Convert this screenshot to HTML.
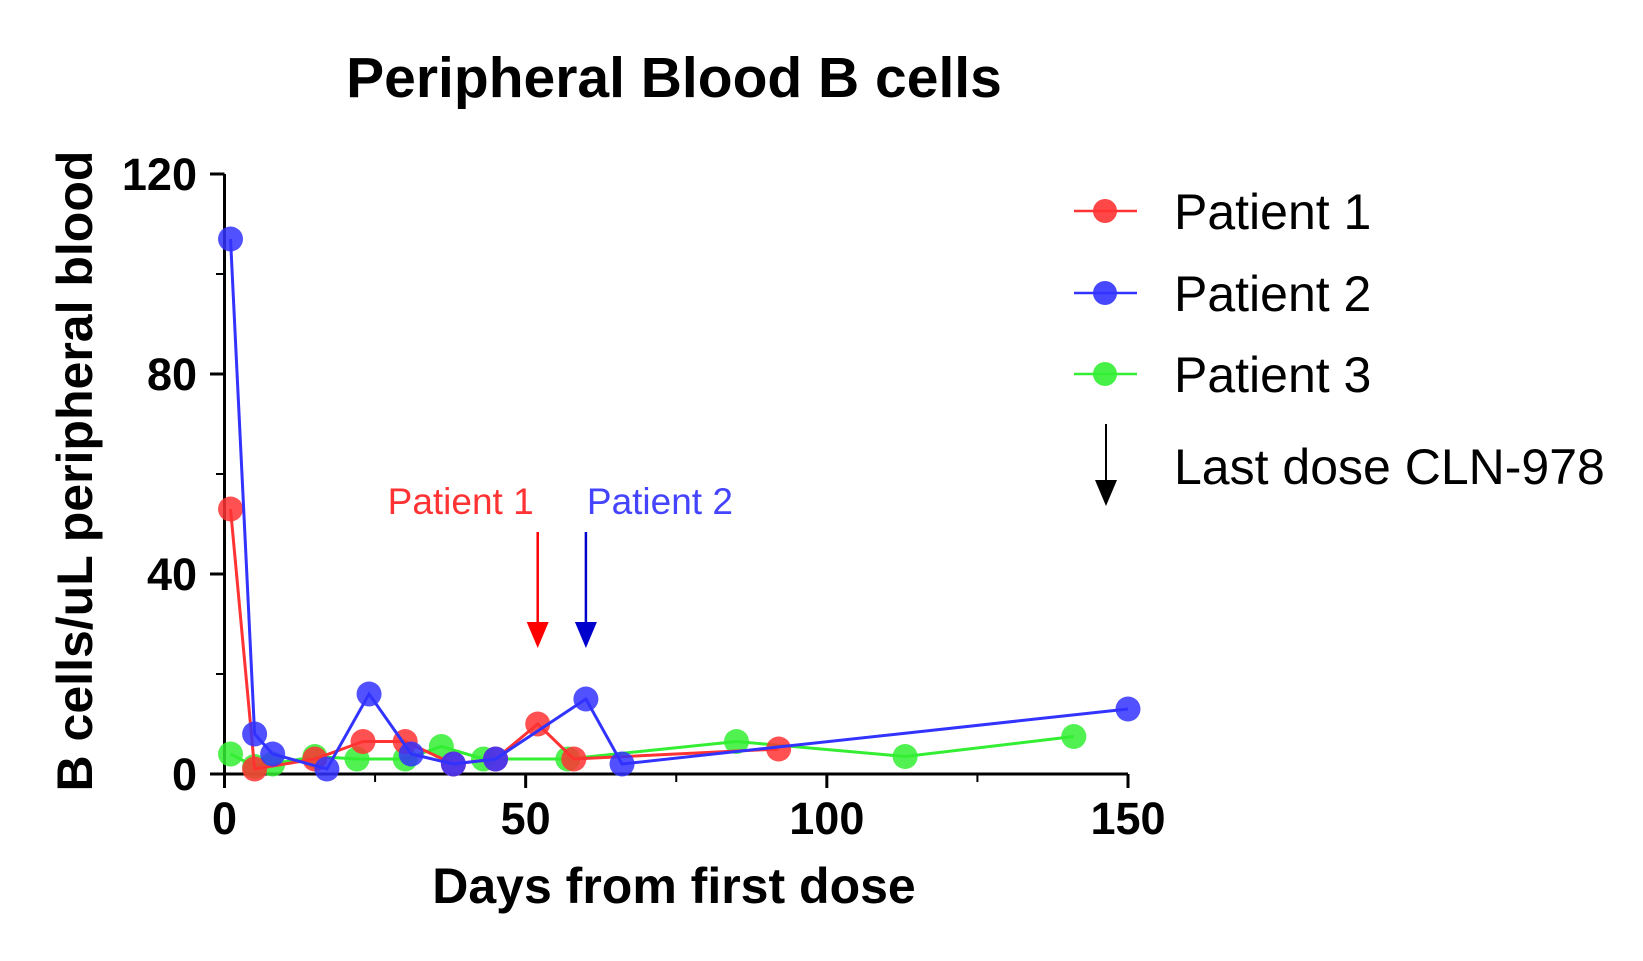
<!DOCTYPE html>
<html><head><meta charset="utf-8"><style>
body{margin:0;background:#fff}
svg text{font-family:"Liberation Sans",Arial,sans-serif}
</style></head><body>
<svg id="chart" width="1643" height="956" xmlns="http://www.w3.org/2000/svg">
<text x="674" y="97" font-size="57" font-weight="bold" text-anchor="middle">Peripheral Blood B cells</text>
<g id="axes"></g>
<g id="series"></g>
<text transform="translate(92,471) rotate(-90)" font-size="50" font-weight="bold" text-anchor="middle">B cells/uL peripheral blood</text>
<text x="674" y="903" font-size="50" font-weight="bold" text-anchor="middle">Days from first dose</text>
<g font-size="50">
 <g><line x1="1074" x2="1137" y1="211" y2="211" stroke="#f33" stroke-width="2.5"/><circle cx="1105" cy="211" r="12" fill="#f33" opacity="0.9"/><text x="1174" y="229">Patient 1</text></g>
 <g><line x1="1074" x2="1137" y1="293" y2="293" stroke="#33f" stroke-width="2.5"/><circle cx="1105" cy="293" r="12" fill="#33f" opacity="0.9"/><text x="1174" y="311">Patient 2</text></g>
 <g><line x1="1074" x2="1137" y1="374" y2="374" stroke="#3e3" stroke-width="2.5"/><circle cx="1105" cy="374" r="12" fill="#3e3" opacity="0.9"/><text x="1174" y="392">Patient 3</text></g>
 <g><line x1="1106" x2="1106" y1="424" y2="482" stroke="#000" stroke-width="2"/><polygon points="1095,480 1117,480 1106,506" fill="#000"/><text x="1174" y="484">Last dose CLN-978</text></g>
</g>
<g id="annot"></g>
</svg>
<script>
const days1=[1,5,15,23,30,38,45,52,58,92];
const vals1=[53,1,3,6.5,6.5,2,3,10,3,5];
const days2=[1,5,8,17,24,31,38,45,60,66,150];
const vals2=[107,8,4,1,16,4,2,3,15,2,13];
const days3=[1,5,8,15,22,30,36,43,57,85,113,141];
const vals3=[4,1.5,2,3.5,3,3,5.5,3,3,6.5,3.5,7.5];
const xTicks=[0,50,100,150];
const yTicks=[0,40,80,120];
const lastDoseDays=[52,60];
const lastDoseLabels=["Patient 1","Patient 2"];
const NS="http://www.w3.org/2000/svg";
const X=d=>224.5+d*(1128-224.5)/150;
const Y=v=>774-v*(774-174)/120;
function mk(t,a,p){const e=document.createElementNS(NS,t);for(const k in a)e.setAttribute(k,a[k]);p.appendChild(e);return e;}
const ax=document.getElementById('axes');
let l=mk('line',{x1:224.5,x2:224.5,y1:174,y2:774,stroke:'#000','stroke-width':3},ax);


l=mk('line',{x1:224.5,x2:1128,y1:774,y2:774,stroke:'#000','stroke-width':3},ax);


yTicks.forEach(v=>{mk('line',{x1:210,x2:224.5,y1:Y(v),y2:Y(v),stroke:'#000','stroke-width':3},ax);
 const t=mk('text',{x:197,y:Y(v)+16,'font-size':45,'font-weight':'bold','text-anchor':'end'},ax);t.textContent=v;
 
 });
for(let i=0;i<yTicks.length-1;i++){const v=(yTicks[i]+yTicks[i+1])/2;mk('line',{x1:216,x2:224.5,y1:Y(v),y2:Y(v),stroke:'#000','stroke-width':2},ax);}
xTicks.forEach(d=>{mk('line',{x1:X(d),x2:X(d),y1:774,y2:788,stroke:'#000','stroke-width':3},ax);
 const t=mk('text',{x:X(d),y:834,'font-size':45,'font-weight':'bold','text-anchor':'middle'},ax);t.textContent=d;
 
 });
for(let i=0;i<xTicks.length-1;i++){const d=(xTicks[i]+xTicks[i+1])/2;mk('line',{x1:X(d),x2:X(d),y1:774,y2:782,stroke:'#000','stroke-width':2},ax);}
const sg=document.getElementById('series');
[[days3,vals3,'#3e3','patient-3'],[days1,vals1,'#f33','patient-1'],[days2,vals2,'#33f','patient-2']].forEach(([ds,vs,c,n])=>{
 const g=mk('g',{},sg);
 
 
 mk('polyline',{points:ds.map((d,i)=>X(d)+','+Y(vs[i])).join(' '),fill:'none',stroke:c,'stroke-width':3},g);
 ds.forEach((d,i)=>{const p=mk('circle',{cx:X(d),cy:Y(vs[i]),r:12.5,fill:c,opacity:0.85},g);
  
  });
});
const an=document.getElementById('annot');
const acol=['#f00','#00c'],tcol=['#f33','#44f'];
lastDoseDays.forEach((d,i)=>{const x=X(d);
 const g=mk('g',{},an);
 
 
 mk('line',{x1:x,x2:x,y1:532,y2:625,stroke:acol[i],'stroke-width':2.5},g);
 mk('polygon',{points:(x-11)+',622 '+(x+11)+',622 '+x+',648',fill:acol[i]},g);
 const t=mk('text',{x:i==0?x-4:x+1,y:514,'font-size':37,fill:tcol[i],'text-anchor':i==0?'end':'start'},g);t.textContent=lastDoseLabels[i];
});
</script>
</body></html>
